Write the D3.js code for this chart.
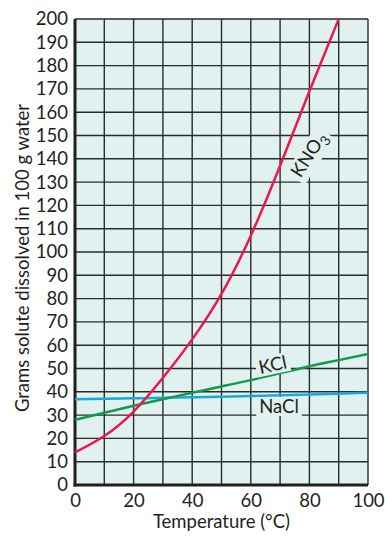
<!DOCTYPE html>
<html>
<head>
<meta charset="utf-8">
<script src="https://cdn.jsdelivr.net/npm/d3@7"></script>
<style>
  html, body { margin: 0; padding: 0; background: #fff; }
  svg { display: block; font-family: Lato, "Open Sans", sans-serif; }
</style>
</head>
<body>
<svg id="chart" width="385" height="536"></svg>
<script>
// Solubility (g per 100 g water) against temperature (°C)
const temps = [0, 10, 20, 30, 40, 50, 60, 70, 80, 90, 100];
const kno3 = [14, 21, 31.5, 46, 62.5, 82, 107, 137, 169, 200];      // 0..90 °C
const kcl  = [28, 31, 34, 36.8, 39.6, 42.3, 45, 48, 51, 53.6, 56.2];
const nacl = [36.8, 37, 37.2, 37.4, 37.7, 37.9, 38.2, 38.5, 38.8, 39.2, 39.6];

const xTicks = [0, 20, 40, 60, 80, 100];
const yTicks = d3.range(0, 201, 10);
const xGrid = d3.range(0, 101, 10);

const svg = d3.select("#chart");
const bg = "#e1f1ef";
const ink = "#231f20";

const x = d3.scaleLinear().domain([0, 100]).range([75, 368]);
const y = d3.scaleLinear().domain([0, 200]).range([485, 19]);

// plot background
svg.append("rect")
  .attr("x", x(0)).attr("y", y(200))
  .attr("width", x(100) - x(0)).attr("height", y(0) - y(200))
  .attr("fill", bg);

// grid
const grid = svg.append("g").attr("stroke", "#2b2b2b").attr("stroke-width", 1.4);
grid.selectAll("line.v").data(xGrid.slice(1)).join("line")
  .attr("x1", d => x(d)).attr("x2", d => x(d))
  .attr("y1", y(200)).attr("y2", y(0));
grid.selectAll("line.h").data(yTicks.slice(1)).join("line")
  .attr("x1", x(0)).attr("x2", x(100))
  .attr("y1", d => y(d)).attr("y2", d => y(d));

// axes (thick left and bottom)
const axisX = d3.axisBottom(x).tickValues(xTicks).tickSize(0).tickPadding(9).tickFormat(d3.format("d"));
const axisY = d3.axisLeft(y).tickValues(yTicks).tickSize(0).tickPadding(7).tickFormat(d3.format("d"));

const gx = svg.append("g").attr("transform", `translate(0,${y(0)})`).call(axisX);
const gy = svg.append("g").attr("transform", `translate(${x(0)},0)`).call(axisY);
[gx, gy].forEach(g => {
  g.select(".domain").remove();
  g.selectAll("text").attr("font-size", 18.5).attr("fill", ink).attr("font-family", "Lato, sans-serif");
});
gx.selectAll("text").attr("dy", "0.71em");

svg.append("line")
  .attr("x1", x(0)).attr("x2", x(0)).attr("y1", y(200)).attr("y2", y(0) + 1.5)
  .attr("stroke", ink).attr("stroke-width", 3);
svg.append("line")
  .attr("x1", x(0) - 1.5).attr("x2", x(100)).attr("y1", y(0)).attr("y2", y(0))
  .attr("stroke", ink).attr("stroke-width", 3);

// axis titles
svg.append("text")
  .attr("x", (x(0) + x(100)) / 2).attr("y", 528)
  .attr("text-anchor", "middle").attr("font-size", 18.5).attr("fill", ink)
  .text("Temperature (°C)");
svg.append("text")
  .attr("transform", `translate(29,${(y(0) + y(200)) / 2 + 6}) rotate(-90)`)
  .attr("text-anchor", "middle").attr("font-size", 18.5).attr("fill", ink)
  .text("Grams solute dissolved in 100 g water");

// curves
const line = d3.line()
  .x((d, i) => x(temps[i]))
  .y(d => y(d))
  .curve(d3.curveNatural);

const curves = svg.append("g").attr("fill", "none").attr("stroke-width", 2.5);
curves.append("path").datum(nacl).attr("d", line).attr("stroke", "#17a9de");
curves.append("path").datum(kcl).attr("d", line).attr("stroke", "#0f9b4c");
curves.append("path").datum(kno3).attr("d", line).attr("stroke", "#ec1650");

// labels with a background patch that hides the grid underneath
function label(cx, cy, angle, build) {
  const g = svg.append("g").attr("transform", `translate(${cx},${cy}) rotate(${angle})`);
  const r = g.append("rect").attr("fill", bg);
  const t = g.append("text").attr("text-anchor", "middle").attr("font-size", 18.5).attr("fill", ink);
  build(t);
  const b = t.node().getBBox();
  r.attr("x", b.x - 3).attr("y", b.y + 2).attr("width", b.width + 6).attr("height", b.height - 3);
  return g;
}

label(279, 413, 0, t => t.text("NaCl"));
label(274, 371, -12, t => t.text("KCl"));
label(314, 158, -57, t => {
  t.append("tspan").text("KNO");
  t.append("tspan").attr("font-size", 14).attr("dy", 5).text("3");
});
</script>
</body>
</html>
